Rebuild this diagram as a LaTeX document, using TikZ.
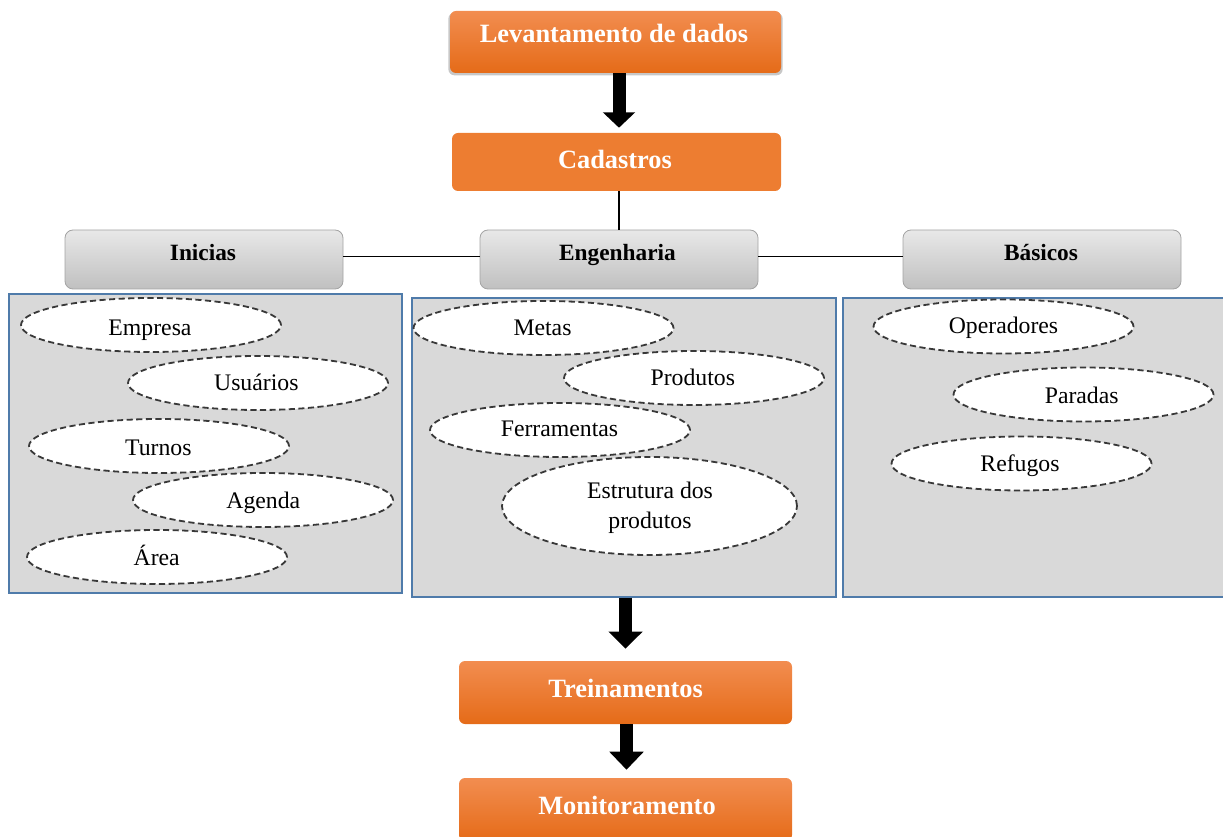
\documentclass[tikz,border=0pt]{standalone}
\usepackage{fontspec}
\setmainfont{Liberation Serif}
\usetikzlibrary{shapes.geometric,shadows,arrows.meta}
\definecolor{orgtop}{HTML}{F28D50}
\definecolor{orgbot}{HTML}{E56B18}
\definecolor{orgflat}{HTML}{ED7D31}
\definecolor{grytop}{HTML}{E8E8E8}
\definecolor{grybot}{HTML}{C0C0C0}
\definecolor{gryline}{HTML}{A3A3A3}
\definecolor{panelfill}{HTML}{D9D9D9}
\definecolor{panelline}{HTML}{4F7BAA}
\definecolor{dashline}{HTML}{383838}
\tikzset{
  orgbox/.style={rectangle, rounded corners=4.5pt, inner sep=0pt,
    minimum width={333*0.75pt}, minimum height={63*0.75pt},
    top color=orgtop, bottom color=orgbot, draw=none},
  orgflatbox/.style={rectangle, rounded corners=4.5pt, inner sep=0pt,
    minimum width={329*0.75pt}, minimum height={58*0.75pt},
    fill=orgflat, draw=none},
  grybox/.style={rectangle, rounded corners=6pt, inner sep=0pt,
    minimum width={278*0.75pt}, minimum height={59*0.75pt},
    top color=grytop, bottom color=grybot, draw=gryline, line width=0.6pt},
  panel/.style={rectangle, inner sep=0pt, fill=panelfill, draw=panelline, line width=0.9pt},
  oval/.style={ellipse, inner sep=0pt, fill=white, draw=dashline, line width=1.35pt,
    dash pattern=on 4.6pt off 2.6pt,
    minimum width={260*0.75pt}, minimum height={54*0.75pt}},
  orgtxt/.style={anchor=base, inner sep=0pt, text=white, font=\fontsize{19.8}{23}\selectfont\bfseries},
  grytxt/.style={anchor=base, inner sep=0pt, text=black, font=\fontsize{17.5}{21}\selectfont\bfseries},
  ovtxt/.style={anchor=base, inner sep=0pt, text=black, font=\fontsize{17.8}{21}\selectfont},
  thinline/.style={draw=black, line width=0.95pt},
  blockarrow/.style={draw=black, line width=9.75pt,
    -{Triangle[width=23.5pt,length=11.5pt]}}
}
\begin{document}
\begin{tikzpicture}[x=0.75pt,y=-0.75pt]
\useasboundingbox (0,0) rectangle (1223,837);
% orange top boxes
\node[orgbox, minimum width={331*0.75pt}, minimum height={62*0.75pt},
  drop shadow={shadow xshift=0pt, shadow yshift=-1.5pt, shadow scale=1.01, opacity=0.22, fill=black}]
  (lev) at (615.5,42) {};
\node[orgtxt] (tlev) at (614,43) {Levantamento de dados};
\node[orgflatbox] (cad) at (616.5,162) {};
\node[orgtxt] (tcad) at (615,168.3) {Cadastros};
% grey headers
\node[grybox] (ini) at (204,259.5) {};
\node[grybox] (eng) at (619,259.5) {};
\node[grybox] (bas) at (1042,259.5) {};
\node[grytxt] (tini) at (203,260.7) {Inicias};
\node[grytxt] (teng) at (617.5,260.7) {Engenharia};
\node[grytxt] (tbas) at (1041,260.7) {Básicos};
% connectors
\draw[blockarrow, shorten >=3.75pt] (lev.south -| eng.north) -- (cad.north -| eng.north);
\draw[thinline] (cad.south -| eng.north) -- (eng.north);
\draw[thinline] ([yshift=2.25pt]ini.east) -- ([yshift=2.25pt]eng.west);
\draw[thinline] ([yshift=2.25pt]eng.east) -- ([yshift=2.25pt]bas.west);
% panels
\node[panel, minimum width={393*0.75pt}, minimum height={299*0.75pt}] (pl) at (205.5,443.5) {};
\node[panel, minimum width={424*0.75pt}, minimum height={299*0.75pt}] (pm) at (624,447.5) {};
\node[panel, minimum width={390*0.75pt}, minimum height={299*0.75pt}] (pr) at (1038,447.5) {};
% left ellipses
\node[oval] (emp) at (151,325) {};
\node[ovtxt] (temp) at (150,336) {Empresa};
\node[oval] (usu) at (258,383) {};
\node[ovtxt] (tusu) at (256.3,391) {Usuários};
\node[oval] (tur) at (159,446) {};
\node[ovtxt] (ttur) at (158.3,455) {Turnos};
\node[oval] (age) at (263,500) {};
\node[ovtxt] (tage) at (263.3,508) {Agenda};
\node[oval] (are) at (157,557) {};
\node[ovtxt] (tare) at (156.7,565) {Área};
% middle ellipses
\node[oval] (met) at (543.5,328) {};
\node[ovtxt] (tmet) at (542.5,335.7) {Metas};
\node[oval] (pro) at (694,378) {};
\node[ovtxt] (tpro) at (692.8,385.7) {Produtos};
\node[oval] (fer) at (560,430) {};
\node[ovtxt] (tfer) at (559.5,436.7) {Ferramentas};
\node[oval, minimum width={295*0.75pt}, minimum height={98*0.75pt}] (est) at (649.5,506) {};
\node[ovtxt] (test1) at (650,498) {Estrutura dos};
\node[ovtxt] (test2) at (650,528) {produtos};
% right ellipses
\node[oval] (ope) at (1003.5,326.5) {};
\node[ovtxt] (tope) at (1003.5,334) {Operadores};
\node[oval] (par) at (1083.5,394.5) {};
\node[ovtxt] (tpar) at (1081.7,403) {Paradas};
\node[oval] (ref) at (1021.5,463.5) {};
\node[ovtxt] (tref) at (1020,471) {Refugos};
% bottom boxes
\node[orgbox] (tre) at (625.5,692.5) {};
\node[orgtxt] (ttre) at (625.7,697.3) {Treinamentos};
\node[orgbox] (mon) at (625.5,809.5) {};
\node[orgtxt] (tmon) at (627,814) {Monitoramento};
\draw[line width=9.75pt, -{Triangle[width=24.75pt,length=12.75pt]}, shorten >=9pt]
  (pm.south -| tre.north) -- (tre.north);
\draw[line width=9.75pt, -{Triangle[width=25pt,length=13.5pt]}, shorten >=6pt]
  ([xshift=0.75pt]tre.south) -- ([xshift=0.75pt]mon.north);
\end{tikzpicture}
\end{document}
